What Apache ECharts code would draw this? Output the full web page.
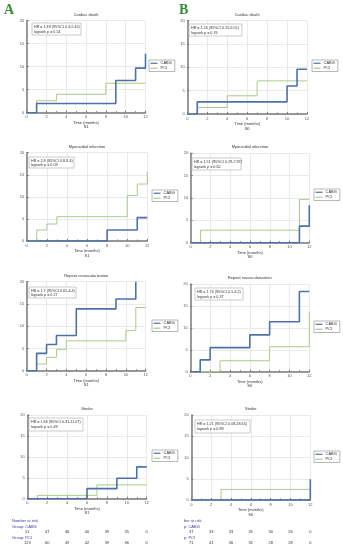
<!DOCTYPE html>
<html><head><meta charset="utf-8">
<script src="https://cdn.jsdelivr.net/npm/echarts@6/dist/echarts.min.js"></script>
<style>html,body{margin:0;padding:0;background:#fff}#c{width:343px;height:550px}</style>
</head><body><div id="c"></div>
<script>
// ---- data ----
const cdA_CABG = [[0,0],[1,2],[9,7],[11,9.7],[12,12.8]];
const cdA_PCI  = [[0,0],[1,2.6],[3,4],[8,6.4],[12,6.4]];
const cdB_CABG = [[0,0],[1,2.6],[10,6],[11,9.6],[12,9.6]];
const cdB_PCI  = [[0,0],[1,1.4],[4,3.9],[7,7.1],[12,7.1]];
const miA_CABG = [[0,0],[8,2.5],[11,5.3],[12,5.3]];
const miA_PCI  = [[0,0],[1,2.5],[2,3.85],[3,5.5],[10,10.3],[11,12.9],[12,15.7]];
const miB_CABG = [[0,0],[11,3.7],[12,8.4]];
const miB_PCI  = [[0,0],[1,2.8],[11,9.7],[12,9.7]];
const rvA_CABG = [[0,0],[1,3.9],[2,5.9],[3,7.9],[5,13.9],[9,16.1],[11,20]];
const rvA_PCI  = [[0,0],[1,1.5],[2,3.0],[3,4.8],[4,6.7],[10,9.0],[11,14.2],[12,14.2]];
const rvB_CABG = [[0,0],[1,2.7],[2,5.5],[6,8.4],[8,11.4],[11,18.3],[12,18.3]];
const rvB_PCI  = [[0,0],[3,2.5],[8,5.7],[12,13.7]];
const stA_CABG = [[0,0],[6,2.4],[9,4.9],[11,7.6],[12,7.6]];
const stA_PCI  = [[0,0],[1,0.8],[7,3.3],[12,3.3]];
const stB_CABG = [[0,0],[12,4.9]];
const stB_PCI  = [[0,0],[3,2.5],[12,2.5]];

const titles = ['Cardiac death','Cardiac death','Myocardial infarction','Myocardial infarction','Repeat revascularization','Repeat revascularization','Stroke','Stroke'];
const hrTexts = ['HR = 1.49 (95%CI 0.4-5.42)','HR = 1.26 (95%CI 0.25-6.55)','HR = 2.8 (95%CI 0.8-9.4)','HR = 1.51 (95%CI 0.29-7.97)','HR = 1.7 (95%CI 0.65-4.4)','HR = 1.76 (95%CI 0.5-6.2)','HR = 1.86 (95%CI 0.31-11.07)','HR = 1.21 (95%CI 0.08-18.65)'];
const pTexts = ['logrank p = 0.54','logrank p = 0.76','logrank p = 0.09','logrank p = 0.62','logrank p = 0.27','logrank p = 0.37','logrank p = 0.49','logrank p = 0.89'];
const strata = ['S1','S0','S1','S0','S1','S0','S1','S0'];
const riskTimes = [0,2,4,6,8,10,12];
const riskA_CABG = [51,47,46,40,39,35,0];
const riskA_PCI  = [123,60,49,42,39,36,0];
const riskB_CABG = [37,33,33,31,30,26,0];
const riskB_PCI  = [71,41,36,31,28,28,0];
const groups = ['CABG','PCI'];

const curves = [
  [cdA_CABG,cdA_PCI],[cdB_CABG,cdB_PCI],[miA_CABG,miA_PCI],[miB_CABG,miB_PCI],
  [rvA_CABG,rvA_PCI],[rvB_CABG,rvB_PCI],[stA_CABG,stA_PCI],[stB_CABG,stB_PCI]
];

// ---- layout (pixels) ----
const L = [
  {x0:26.7,x1:145.5,yt:20.7,yb:112.7, box:[32,23,49,12], leg:[149,60]},
  {x0:187.3,x1:307,yt:20.7,yb:114, box:[189,24,53,12], leg:[312,60]},
  {x0:26.7,x1:147.3,yt:152.7,yb:241, box:[29,157,45,11], leg:[152,190]},
  {x0:190.7,x1:309.3,yt:153.3,yb:242.7, box:[192,158,49,12], leg:[314,189]},
  {x0:26.7,x1:145.7,yt:281.7,yb:370.7, box:[29,287,47,11], leg:[152,320]},
  {x0:190.3,x1:309.3,yt:284,yb:371.7, box:[195,288,48,12], leg:[314,321]},
  {x0:27.3,x1:146.7,yt:415,yb:498.7, box:[29,418,54,13], leg:[152,450]},
  {x0:191.3,x1:310.3,yt:415,yb:500, box:[195,420,55,13], leg:[314,451]}
];
const C_CABG = '#4d72a8', C_PCI = '#a9cb8c';
const FONT = 'Liberation Sans, Arial, sans-serif';
const FS = 4;

const grid=[], xAxis=[], yAxis=[], series=[], legend=[], graphic=[];
L.forEach((p,i)=>{
  grid.push({left:p.x0, top:p.yt, width:p.x1-p.x0, height:p.yb-p.yt});
  xAxis.push({gridIndex:i,type:'value',min:0,max:12,interval:2,
    axisLine:{show:true,lineStyle:{color:'#7a7a7a',width:1.5}},
    axisTick:{show:true,inside:true,length:2,lineStyle:{color:'#7a7a7a'}},
    minorTick:{show:true,splitNumber:2,length:1.5,lineStyle:{color:'#7a7a7a'}},
    axisLabel:{fontSize:FS,color:'#555',margin:2.5,fontFamily:FONT},
    splitLine:{show:true,lineStyle:{color:'#e4e4e4',width:0.8}}});
  yAxis.push({gridIndex:i,type:'value',min:0,max:20,interval:5,
    axisLine:{show:true,onZero:false,lineStyle:{color:'#7a7a7a',width:1.5}},
    axisTick:{show:true,inside:true,length:2,lineStyle:{color:'#7a7a7a'}},
    axisLabel:{fontSize:FS,color:'#555',margin:2.5,fontFamily:FONT},
    splitLine:{show:true,lineStyle:{color:'#e4e4e4',width:0.8}}});
  series.push({type:'line',name:groups[1],xAxisIndex:i,yAxisIndex:i,step:'end',data:curves[i][1],
    showSymbol:false,symbol:'none',lineStyle:{color:C_PCI,width:1},itemStyle:{color:C_PCI},z:3,animation:false});
  series.push({type:'line',name:groups[0],xAxisIndex:i,yAxisIndex:i,step:'end',data:curves[i][0],
    showSymbol:false,symbol:'none',lineStyle:{color:C_CABG,width:1.6},itemStyle:{color:C_CABG},z:4,animation:false});
  legend.push({left:p.leg[0],top:p.leg[1],orient:'vertical',data:groups,icon:'rect',itemWidth:7,itemHeight:1.2,
    itemGap:0.5,padding:[1,3,1,1.5],borderColor:'#999',borderWidth:0.7,backgroundColor:'#fff',
    textStyle:{fontSize:FS,lineHeight:4.5,color:'#333',fontFamily:FONT,padding:[0,0,0,-2]},selectedMode:false});
  const cx=(p.x0+p.x1)/2;
  graphic.push({type:'text',x:cx,y:p.yt-6,style:{text:titles[i],fontSize:FS,fill:'#333',align:'center',verticalAlign:'middle',fontFamily:FONT}});
  graphic.push({type:'text',x:cx,y:p.yb+10,style:{text:'Time (months)',fontSize:FS,fill:'#333',align:'center',verticalAlign:'middle',fontFamily:FONT}});
  graphic.push({type:'text',x:cx,y:p.yb+14.5,style:{text:strata[i],fontSize:FS,fill:'#333',align:'center',verticalAlign:'middle',fontFamily:FONT}});
  graphic.push({type:'rect',shape:{x:p.box[0],y:p.box[1],width:p.box[2],height:p.box[3]},style:{fill:'#fff',stroke:'#b5b5b5',lineWidth:0.7},z:10});
  graphic.push({type:'text',x:p.box[0]+2,y:p.box[1]+p.box[3]*0.32,style:{text:hrTexts[i],fontSize:3.7,fill:'#333',verticalAlign:'middle',fontFamily:FONT},z:11});
  graphic.push({type:'text',x:p.box[0]+2,y:p.box[1]+p.box[3]*0.72,style:{text:pTexts[i],fontSize:3.7,fill:'#333',verticalAlign:'middle',fontFamily:FONT},z:11});
});
graphic.push({type:'text',x:4,y:3,style:{text:'A',fontSize:14,fontWeight:'bold',fill:'#3c8a3c',fontFamily:'Liberation Serif, DejaVu Serif, serif'}});
graphic.push({type:'text',x:179,y:3,style:{text:'B',fontSize:14,fontWeight:'bold',fill:'#3c8a3c',fontFamily:'Liberation Serif, DejaVu Serif, serif'}});

const chart = echarts.init(document.getElementById('c'),null,{renderer:'canvas'});
chart.setOption({animation:false,grid,xAxis,yAxis,series,legend,graphic});

// number at risk, positioned via axis scales
const blue='#3b3b9e';
const risk=[];
function riskBlock(axisIdx, x0, labels, cab, pci){
  risk.push({type:'text',x:x0,y:521,style:{text:labels[0],fontSize:FS,fill:blue,verticalAlign:'middle',fontFamily:FONT}});
  risk.push({type:'text',x:x0,y:526.5,style:{text:labels[1],fontSize:FS,fill:blue,verticalAlign:'middle',fontFamily:FONT}});
  risk.push({type:'text',x:x0,y:537.5,style:{text:labels[2],fontSize:FS,fill:blue,verticalAlign:'middle',fontFamily:FONT}});
  riskTimes.forEach((t,k)=>{
    const px = chart.convertToPixel({xAxisIndex:axisIdx}, t);
    risk.push({type:'text',x:px,y:532,style:{text:String(cab[k]),fontSize:FS,fill:'#333',align:'center',verticalAlign:'middle',fontFamily:FONT}});
    risk.push({type:'text',x:px,y:543,style:{text:String(pci[k]),fontSize:FS,fill:'#333',align:'center',verticalAlign:'middle',fontFamily:FONT}});
  });
}
riskBlock(6, 12, ['Number at risk','Group: CABG','Group: PCI'], riskA_CABG, riskA_PCI);
riskBlock(7, 184, ['ber at risk','p: CABG','p: PCI'], riskB_CABG, riskB_PCI);
chart.setOption({graphic: graphic.concat(risk)});
</script></body></html>
